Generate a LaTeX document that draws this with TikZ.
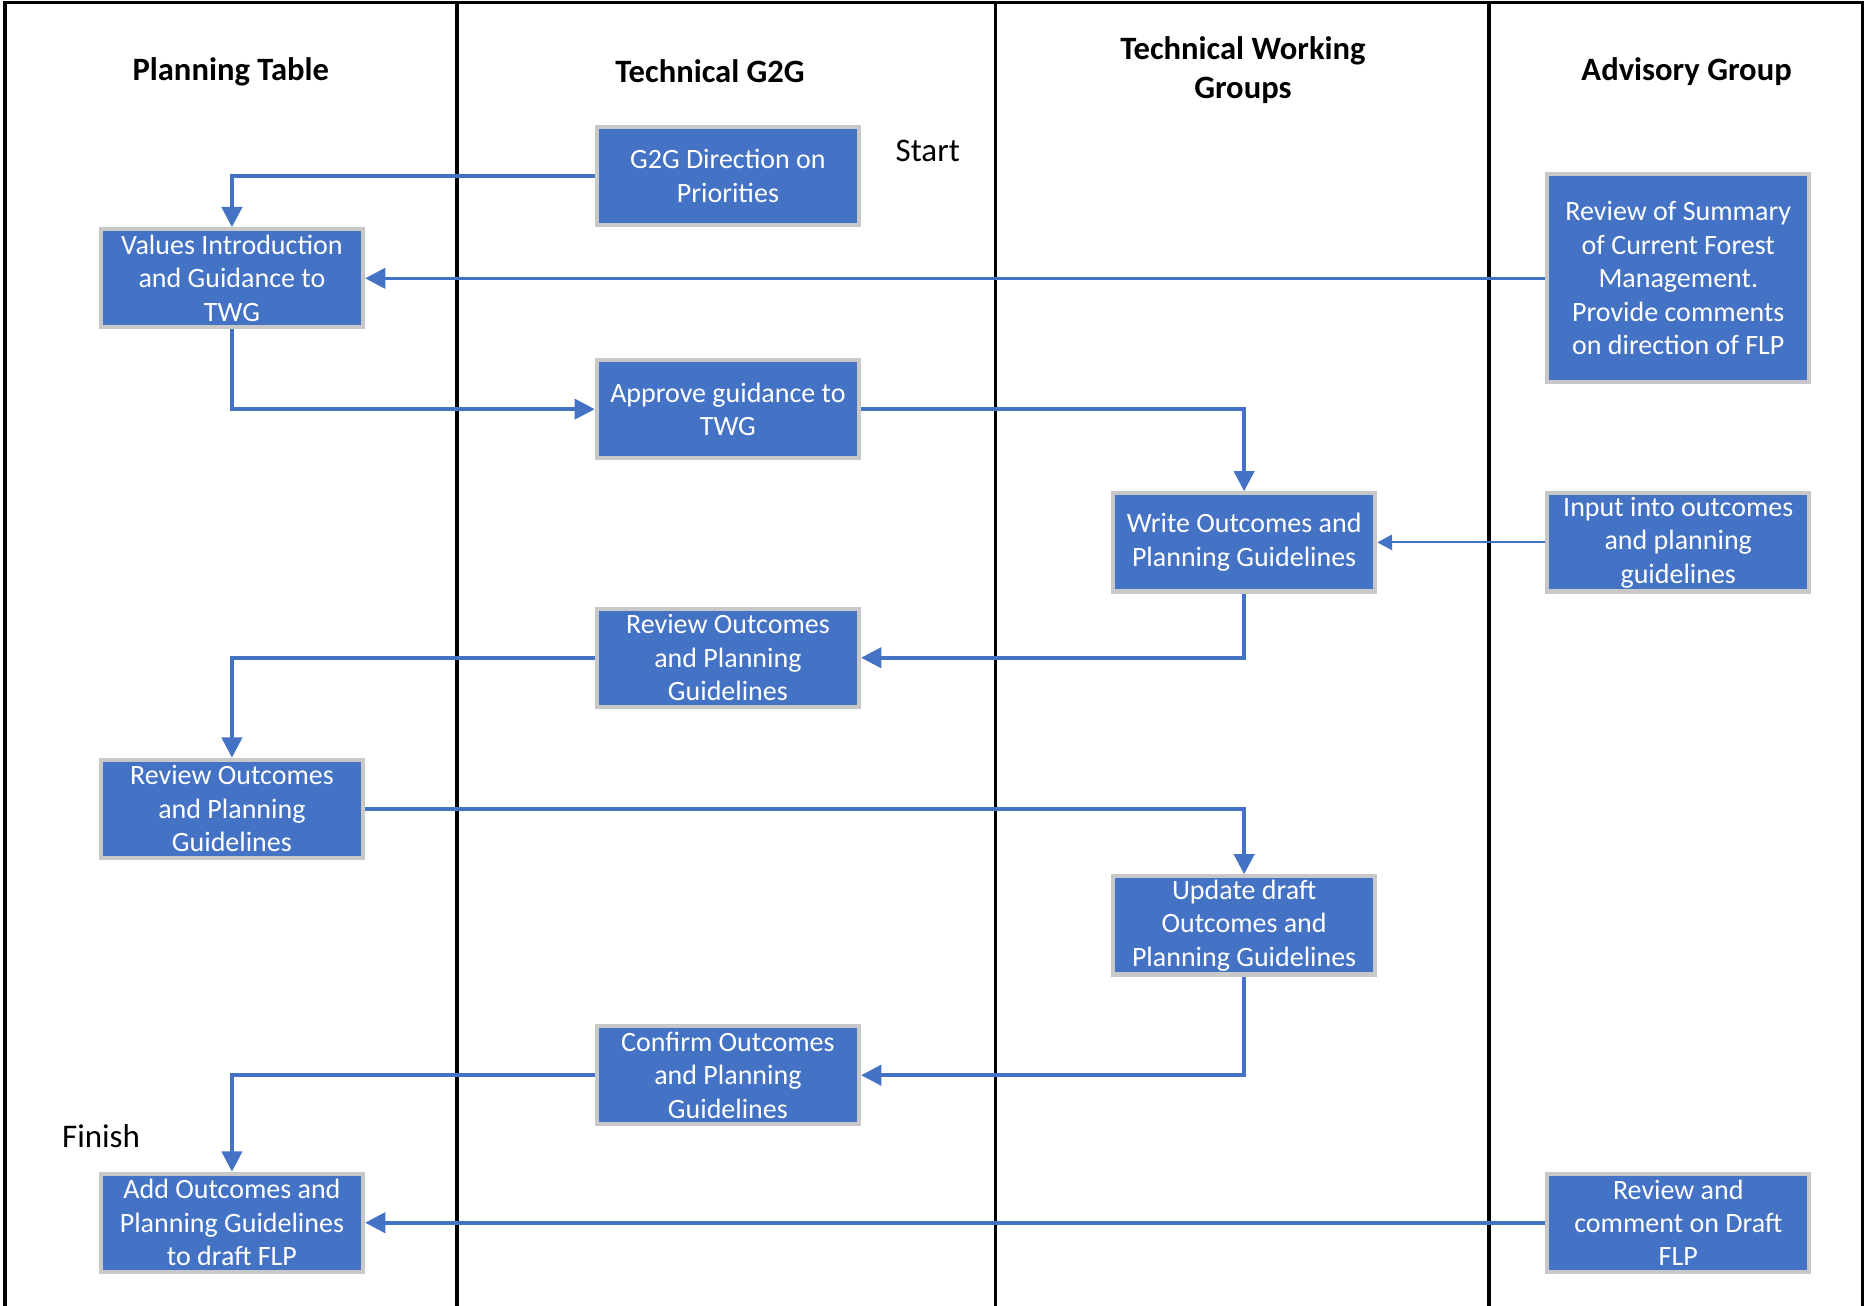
\documentclass[tikz,border=0pt]{standalone}
\usepackage{fontspec}
\setmainfont{Carlito}
\usetikzlibrary{arrows.meta}
\definecolor{boxblue}{HTML}{4472C4}
\definecolor{boxgray}{HTML}{C8C8C8}
\begin{document}
\begin{tikzpicture}[x=0.02cm,y=-0.02cm,
  proc/.style={draw=boxgray, line width=0.07cm, fill=boxblue, text=white, align=center,
    minimum width=4.41cm, minimum height=1.65cm, inner sep=0pt,
    font=\fontsize{13.4}{16.0}\selectfont},
  flow/.style={draw=boxblue, line width=0.06cm, -{Triangle[length=0.34cm,width=0.34cm]}},
  thinflow/.style={draw=boxblue, line width=0.035cm, -{Triangle[length=0.25cm,width=0.26cm]}},
  lane/.style={line width=0.06cm, black},
  head/.style={font=\fontsize{15.6}{18.7}\selectfont\bfseries, align=center},
  note/.style={font=\fontsize{15.8}{18}\selectfont}
]
\useasboundingbox (0,0) rectangle (1568,1098);
% swimlane frame
\draw[lane] (4,1098) -- (4,2) -- (1566,2) -- (1566,1098);
\draw[lane] (384,2) -- (384,1098);
\draw[lane] (837,2) -- (837,1098);
\draw[lane] (1252,2) -- (1252,1098);
% headers
\node[head] (h1) at (194,60) {Planning Table};
\node[head] (h2) at (597,60) {Technical G2G};
\node[head] (h3) at (1045,59) {Technical Working\\Groups};
\node[head] (h4) at (1418,60) {Advisory Group};
\node[note] (start) at (780,127) {Start};
\node[note] (finish) at (85,955) {Finish};
% process boxes
\node[proc] (g2g) at (612,148) {G2G Direction on\\Priorities};
\node[proc] (values) at (195,234) {Values Introduction\\and Guidance to\\TWG};
\node[proc] (approve) at (612,344) {Approve guidance to\\TWG};
\node[proc, minimum height=3.5cm] (rsum) at (1411,234) {Review of Summary\\of Current Forest\\Management.\\Provide comments\\on direction of FLP};
\node[proc] (write) at (1046,456) {Write Outcomes and\\Planning Guidelines};
\node[proc] (input) at (1411,456) {Input into outcomes\\and planning\\guidelines};
\node[proc] (revg) at (612,553) {Review Outcomes\\and Planning\\Guidelines};
\node[proc] (revp) at (195,680) {Review Outcomes\\and Planning\\Guidelines};
\node[proc] (update) at (1046,778) {Update draft\\Outcomes and\\Planning Guidelines};
\node[proc] (confirm) at (612,904) {Confirm Outcomes\\and Planning\\Guidelines};
\node[proc] (add) at (195,1028) {Add Outcomes and\\Planning Guidelines\\to draft FLP};
\node[proc] (rac) at (1411,1028) {Review and\\comment on Draft\\FLP};
% connectors
\draw[flow] (g2g.west) -| (values.north);
\draw[flow] (rsum.west) -- (values.east);
\draw[flow] (values.south) |- (approve.west);
\draw[flow] (approve.east) -| (write.north);
\draw[thinflow] (input.west) -- (write.east);
\draw[flow] (write.south) |- (revg.east);
\draw[flow] (revg.west) -| (revp.north);
\draw[flow] (revp.east) -| (update.north);
\draw[flow] (update.south) |- (confirm.east);
\draw[flow] (confirm.west) -| (add.north);
\draw[flow] (rac.west) -- (add.east);
\end{tikzpicture}
\end{document}
